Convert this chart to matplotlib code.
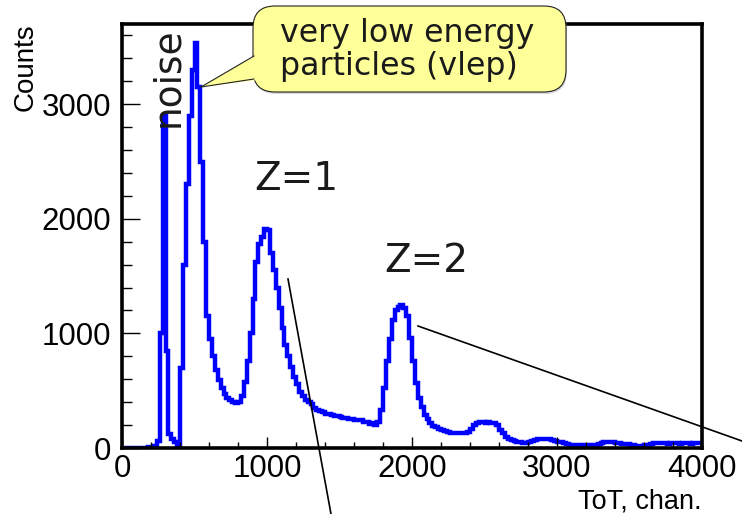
import numpy as np
import matplotlib
matplotlib.use("Agg")
import matplotlib.pyplot as plt
from matplotlib.patches import FancyBboxPatch, Polygon

# ToT spectrum, 20-channel bins from 0 to 4000
bin_width = 20
counts = [
    0, 0, 0, 0, 0, 0, 0, 0, 2, 5,                          # 0-200
    5, 15, 60, 1000, 2900, 850, 120, 80, 50, 30,           # 200-400 (noise)
    700, 1600, 2300, 2900, 3300, 3530, 3150, 2500, 1800, 1150,  # 400-600 (vlep)
    950, 800, 680, 590, 520, 470, 440, 420, 400, 390,      # 600-800
    400, 450, 580, 760, 1000, 1300, 1620, 1780, 1840, 1910,  # 800-1000
    1900, 1700, 1550, 1400, 1220, 1050, 900, 800, 710, 620,  # 1000-1200
    560, 490, 450, 420, 400, 380, 350, 335, 325, 310,      # 1200-1400
    300, 295, 285, 280, 275, 270, 265, 260, 255, 250,      # 1400-1600
    245, 240, 245, 230, 225, 210, 215, 205, 230, 330,      # 1600-1800
    520, 760, 950, 1120, 1200, 1230, 1250, 1220, 1150, 960,  # 1800-2000
    760, 570, 440, 360, 290, 250, 220, 195, 180, 165,      # 2000-2200
    155, 145, 140, 135, 130, 128, 130, 135, 135, 140,      # 2200-2400
    165, 200, 220, 225, 225, 220, 225, 220, 215, 200,      # 2400-2600
    160, 130, 100, 80, 70, 60, 55, 50, 45, 45,             # 2600-2800
    50, 60, 70, 75, 75, 80, 75, 78, 70, 65,                # 2800-3000
    55, 50, 45, 35, 30, 28, 25, 25, 28, 25,                # 3000-3200
    25, 25, 28, 30, 35, 45, 52, 55, 50, 48,                # 3200-3400
    45, 42, 38, 35, 33, 30, 25, 20, 18, 20,                # 3400-3600
    25, 30, 38, 40, 40, 42, 40, 42, 38, 40,                # 3600-3800
    40, 42, 38, 40, 42, 40, 38, 40, 42, 40,                # 3800-4000
]
edges = np.arange(0, bin_width * len(counts) + 1, bin_width)

x_ticks = [0, 1000, 2000, 3000, 4000]
y_ticks = [0, 1000, 2000, 3000]

W, H = 742, 514
fig = plt.figure(figsize=(W / 100, H / 100), dpi=100)

# main frame (pixel box 122..702 x 24..448)
ax = fig.add_axes([122 / W, 1 - 448 / H, 580 / W, 424 / H])
ax.stairs(counts, edges, color="#0000ff", linewidth=3.2, baseline=None)
ax.set_xlim(0, 4000)
ax.set_ylim(0, 3700)

tick_font = {"family": "Liberation Sans", "size": 22.5}
ax.set_xticks(x_ticks)
ax.set_xticklabels([str(t) for t in x_ticks], fontdict=tick_font)
ax.set_yticks(y_ticks)
ax.set_yticklabels([str(t) for t in y_ticks], fontdict=tick_font)
ax.set_xticks(np.arange(0, 4001, 200), minor=True)
ax.set_yticks(np.arange(0, 3701, 200), minor=True)
ax.tick_params(axis="x", which="major", direction="in", length=8, width=1, pad=4)
ax.tick_params(axis="x", which="minor", direction="in", length=4.5, width=1)
ax.tick_params(axis="y", which="major", direction="in", length=13, width=1, pad=8)
ax.tick_params(axis="y", which="minor", direction="in", length=7, width=1)
for s in ax.spines.values():
    s.set_linewidth(2.6)

# overlay in pixel coordinates for the hand-drawn notes
ov = fig.add_axes([0, 0, 1, 1], zorder=5)
ov.set_xlim(0, W)
ov.set_ylim(H, 0)
ov.axis("off")
ov.patch.set_alpha(0)

txt = "#1a1a1a"
ov.text(178, 127, "noise", fontsize=27, color=txt, rotation=90,
        rotation_mode="anchor", ha="left", va="baseline")
ov.text(254, 190, "Z=1", fontsize=28, color=txt, ha="left", va="baseline")
ov.text(384, 272, "Z=2", fontsize=28, color=txt, ha="left", va="baseline")

# callout box
shadow = FancyBboxPatch((254, 8), 313, 86, boxstyle="round,pad=0,rounding_size=22",
                        facecolor="#b0b0b0", edgecolor="none", alpha=0.5)
box = FancyBboxPatch((253, 6), 313, 86, boxstyle="round,pad=0,rounding_size=22",
                     facecolor="#ffff99", edgecolor="#222222", linewidth=0.8)
ov.add_patch(shadow)
ov.add_patch(box)
ov.add_patch(Polygon([(201, 87), (258, 54), (258, 80)], closed=True,
                     facecolor="#ffff99", edgecolor="none"))
ov.plot([201, 254], [87, 56], color="#222222", linewidth=0.8)
ov.plot([201, 254], [87, 79], color="#222222", linewidth=0.8)
ov.text(280, 42, "very low energy", fontsize=22.8, color=txt, ha="left", va="baseline")
ov.text(280, 75, "particles (vlep)", fontsize=22.8, color=txt, ha="left", va="baseline")

# pointer lines
ov.plot([288, 331], [279, 514], color="black", linewidth=1.2, clip_on=False)
ov.plot([418, 742], [326, 441], color="black", linewidth=1.2, clip_on=False)

# axis titles
ov.text(33, 23, "Counts", fontsize=20, family="Liberation Sans", rotation=90,
        rotation_mode="anchor", ha="right", va="baseline")
ov.text(702, 508, "ToT, chan.", fontsize=19.5, family="Liberation Sans",
        ha="right", va="baseline")

fig.savefig("out.png", dpi=100)
